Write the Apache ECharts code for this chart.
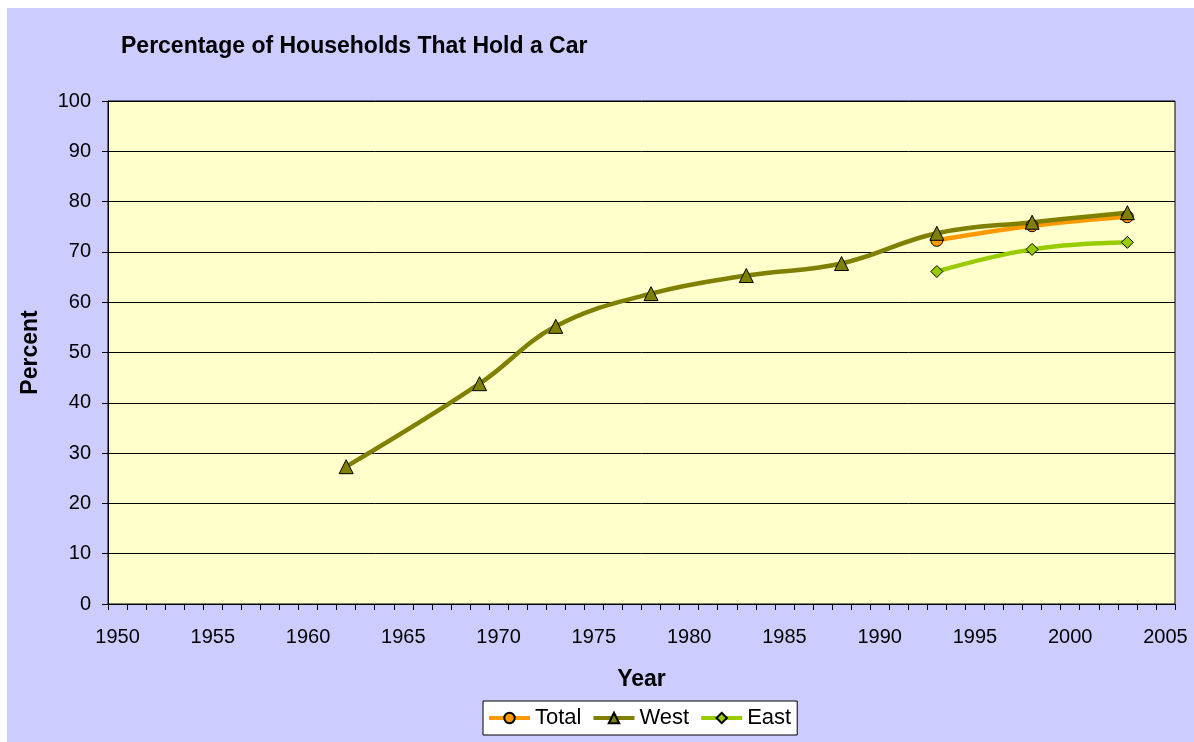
<!DOCTYPE html>
<html>
<head>
<meta charset="utf-8">
<script src="https://cdn.jsdelivr.net/npm/echarts@6/dist/echarts.min.js"></script>
<style>
html,body{margin:0;padding:0;background:#ffffff;}
#frame{position:absolute;left:7px;top:8px;width:1187px;height:734px;background:#CCCCFF;}
#chart{position:absolute;left:0;top:0;width:1194px;height:742px;}
</style>
</head>
<body>
<div id="frame"></div>
<div id="chart"></div>
<script>
const years = [];
for (let y = 1950; y <= 2005; y++) years.push(String(y));

const westYears = [1962, 1969, 1973, 1978, 1983, 1988, 1993, 1998, 2003];
const westValues = [27.3, 43.8, 55.2, 61.7, 65.3, 67.7, 73.7, 75.9, 77.8];
const totalYears = [1993, 1998, 2003];
const totalValues = [72.3, 75.2, 77.0];
const eastYears = [1993, 1998, 2003];
const eastValues = [66.1, 70.5, 71.9];

const pairs = (ys, vs) => ys.map((y, i) => [String(y), vs[i]]);

const chart = echarts.init(document.getElementById('chart'));
const font = 'Liberation Sans, Arial, sans-serif';
chart.setOption({
  backgroundColor: 'transparent',
  animation: false,
  title: {
    text: 'Percentage of Households That Hold a Car',
    left: 116, top: 30,
    textStyle: {fontFamily: font, fontSize: 23, fontWeight: 'bold', color: '#000'}
  },
  grid: {left: 108, top: 101, width: 1067, height: 503, show: true,
         backgroundColor: '#FFFFCC', borderColor: '#000', borderWidth: 1},
  legend: {
    top: 701, left: 483,
    backgroundColor: '#fff', borderColor: '#000', borderWidth: 1,
    padding: [6, 6, 6, 4], itemGap: 10, itemWidth: 41, itemHeight: 13,
    lineStyle: {width: 4},
    textStyle: {fontFamily: font, fontSize: 22, color: '#000', padding: [1, 0, 0, 0]},
    data: ['Total', 'West', 'East']
  },
  xAxis: {
    type: 'category', data: years, boundaryGap: true,
    name: 'Year', nameLocation: 'middle', nameGap: 64,
    nameTextStyle: {fontFamily: font, fontSize: 23, fontWeight: 'bold', color: '#000'},
    axisLine: {lineStyle: {color: '#000', width: 1}},
    axisTick: {show: true, interval: 0, length: 6, lineStyle: {color: '#000'}},
    axisLabel: {interval: 4, margin: 23, fontFamily: font, fontSize: 20, color: '#000'},
    splitLine: {show: false}
  },
  yAxis: {
    type: 'value', min: 0, max: 100, interval: 10,
    name: 'Percent', nameLocation: 'middle', nameGap: 66, nameRotate: 90,
    nameTextStyle: {fontFamily: font, fontSize: 23, fontWeight: 'bold', color: '#000'},
    axisLine: {show: true, lineStyle: {color: '#000', width: 1}},
    axisTick: {show: true, length: 6, lineStyle: {color: '#000'}},
    axisLabel: {margin: 17, fontFamily: font, fontSize: 20, color: '#000'},
    splitLine: {show: true, lineStyle: {color: '#000', width: 1}}
  },
  series: [
    {name: 'Total', type: 'line', smooth: 0.4, data: pairs(totalYears, totalValues),
     symbol: 'circle', symbolSize: 12, showAllSymbol: true,
     lineStyle: {color: '#FF9900', width: 4.5},
     itemStyle: {color: '#FF9900', borderColor: '#000', borderWidth: 1}},
    {name: 'West', type: 'line', smooth: 0.4, data: pairs(westYears, westValues),
     symbol: 'triangle', symbolSize: 14, showAllSymbol: true,
     lineStyle: {color: '#808000', width: 4.5},
     itemStyle: {color: '#808000', borderColor: '#000', borderWidth: 1}},
    {name: 'East', type: 'line', smooth: 0.4, data: pairs(eastYears, eastValues),
     symbol: 'diamond', symbolSize: 12, showAllSymbol: true,
     lineStyle: {color: '#99CC00', width: 4.5},
     itemStyle: {color: '#99CC00', borderColor: '#000', borderWidth: 1}}
  ]
});
</script>
</body>
</html>
